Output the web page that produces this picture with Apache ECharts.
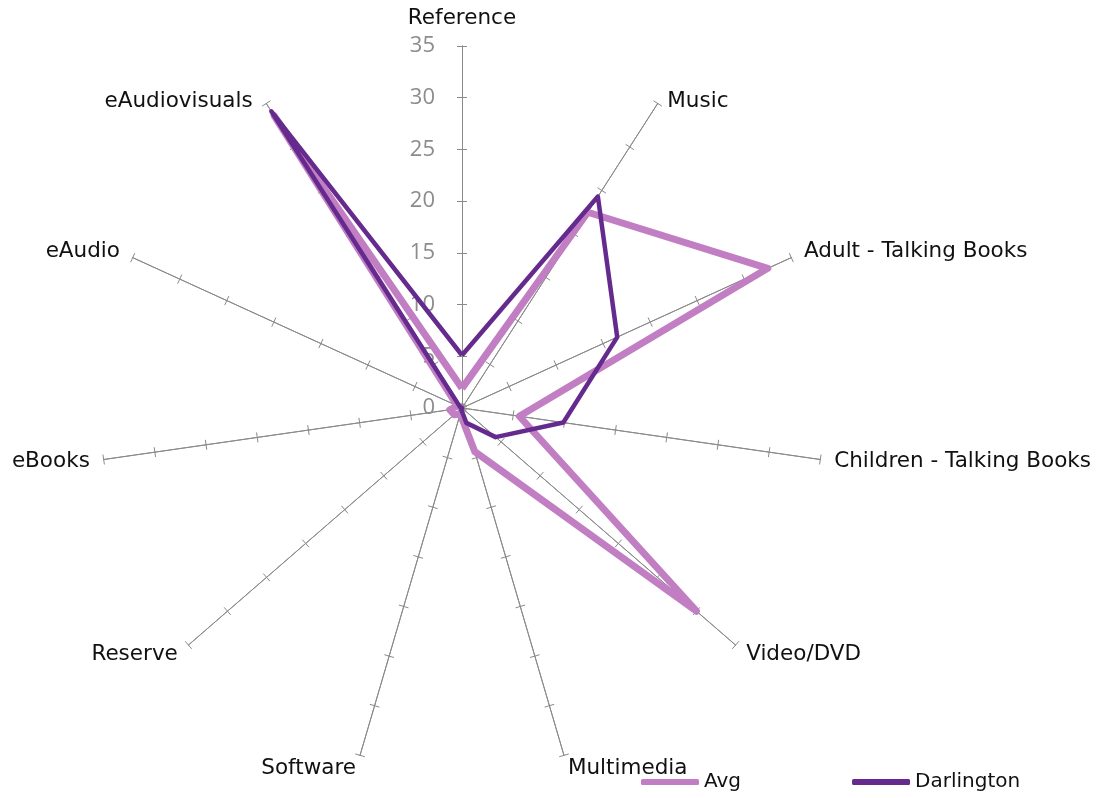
<!DOCTYPE html>
<html>
<head>
<meta charset="utf-8">
<script src="https://cdn.jsdelivr.net/npm/echarts@6/dist/echarts.min.js"></script>
<style>
  html, body { margin: 0; padding: 0; background: #fff; }
  #chart { width: 1105px; height: 798px; }
</style>
</head>
<body>
<div id="chart"></div>
<script>
// categories, clockwise from the top
let categories = ['Reference', 'Music', 'Adult - Talking Books', 'Children - Talking Books',
    'Video/DVD', 'Multimedia', 'Software', 'Reserve', 'eBooks', 'eAudio', 'eAudiovisuals'];
let avgValues = [1.9, 22.5, 32.5, 5.6, 30, 4.4, 0.6, 1, 1.2, 0.5, 33.6];
let darlingtonValues = [5.1, 24.3, 16.5, 9.9, 4.3, 1.5, 0.2, 0, 0, 0.2, 34.1];
let tickLabels = [0, 5, 10, 15, 20, 25, 30, 35];

let maxVal = 35;
let center = [462, 408];
let radius = 362;
let font = 'DejaVu Sans, Verdana, sans-serif';

// echarts 按逆时针排列指标，所以除第一个外反转顺序
function ccw(arr) {
    return [arr[0]].concat(arr.slice(1).reverse());
}

let indicator = ccw(categories).map(name => ({ name: name, min: 0, max: maxVal }));

// 名称的微调：顶部上移，斜上方两个下移
function nameText(name) {
    if (name === 'Reference') {
        return `{top|${name}}`;
    }
    if (name === 'Music') {
        return `{diagR|${name}}`;
    }
    if (name === 'eAudiovisuals') {
        return `{diagL|${name}}`;
    }
    return `{n|${name}}`;
}
let nameBase = { color: '#111', fontSize: 21.5, fontFamily: font };

// 两个重叠的雷达坐标，刻度线分别朝两侧，拼成十字刻度
function radarBox(tickLen, showName) {
    return {
        indicator: indicator,
        center: center,
        radius: radius,
        startAngle: 90,
        splitNumber: 7,
        shape: 'polygon',
        nameGap: 14,
        axisName: {
            show: showName,
            color: '#111',
            fontSize: 21.5,
            fontFamily: font,
            verticalAlign: 'middle',
            formatter: nameText,
            rich: {
                n: nameBase,
                top: Object.assign({ padding: [0, 0, 28, 0] }, nameBase),
                diagR: Object.assign({ padding: [20, 0, 0, 2] }, nameBase),
                diagL: Object.assign({ padding: [20, 6, 0, 0] }, nameBase)
            }
        },
        axisLine: { lineStyle: { color: '#8a8a8a', width: 1 } },
        axisTick: { show: true, length: tickLen, lineStyle: { color: '#8a8a8a' } },
        axisLabel: { show: false },
        splitLine: { show: false },
        splitArea: { show: false }
    };
}

let myChart = echarts.init(document.getElementById('chart'));

myChart.setOption({
    backgroundColor: '#fff',
    animation: false,
    radar: [radarBox(5, true), radarBox(-5, false)],
    // 'Reference' 轴的刻度文字
    grid: { left: center[0], right: 1105 - center[0] - 1, top: center[1] - radius, bottom: 798 - center[1] },
    xAxis: { type: 'value', show: false },
    yAxis: {
        type: 'value',
        min: 0,
        max: maxVal,
        interval: 5,
        axisLine: { show: false },
        axisTick: { show: false },
        splitLine: { show: false },
        axisLabel: {
            margin: 27,
            color: '#8c8c8c',
            fontSize: 22,
            fontFamily: 'Open Sans, sans-serif',
            formatter: v => tickLabels.indexOf(v) >= 0 ? String(v) : ''
        }
    },
    legend: {
        left: 641,
        top: 772,
        padding: 0,
        itemWidth: 58,
        itemHeight: 6,
        itemGap: 111,
        icon: 'roundRect',
        textStyle: { color: '#111', fontSize: 20, fontFamily: font },
        data: ['Avg', 'Darlington']
    },
    series: [
        {
            name: 'Avg',
            type: 'radar',
            radarIndex: 0,
            symbol: 'none',
            color: '#c17ec2',
            lineStyle: { width: 7, color: '#c17ec2', join: 'round' },
            data: [{ name: 'Avg', value: ccw(avgValues) }]
        },
        {
            name: 'Darlington',
            type: 'radar',
            radarIndex: 0,
            symbol: 'none',
            color: '#652a8d',
            lineStyle: { width: 4.5, color: '#652a8d', join: 'round' },
            data: [{ name: 'Darlington', value: ccw(darlingtonValues) }]
        }
    ]
});
</script>
</body>
</html>
